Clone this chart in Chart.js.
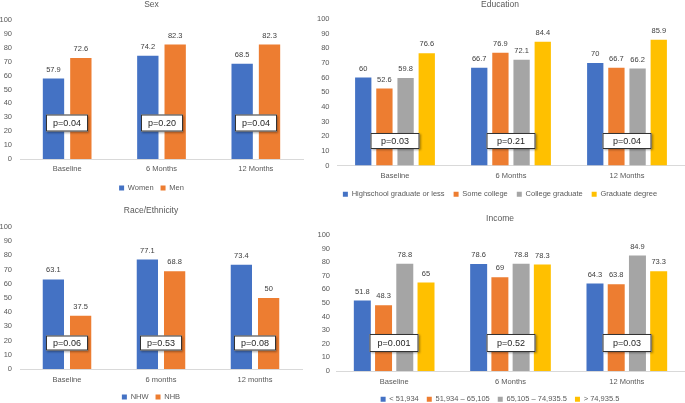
<!DOCTYPE html>
<html>
<head>
<meta charset="utf-8">
<script src="https://cdn.jsdelivr.net/npm/chart.js@4.4.1/dist/chart.umd.min.js"></script>
<style>
    html, body { margin: 0; padding: 0; background: #fff; }
    #wrap { position: relative; width: 685px; height: 403px; overflow: hidden; }
    .panel { position: absolute; }
</style>
</head>
<body>
<div id="wrap">
    <div class="panel" style="left:0;top:0;width:310px;height:200px"><canvas id="sexChart"></canvas></div>
    <div class="panel" style="left:315px;top:0;width:370px;height:200px"><canvas id="eduChart"></canvas></div>
    <div class="panel" style="left:0;top:200px;width:310px;height:203px"><canvas id="raceChart"></canvas></div>
    <div class="panel" style="left:315px;top:200px;width:370px;height:203px"><canvas id="incomeChart"></canvas></div>
</div>
<script>
// ===============================================
// Data
// ===============================================
const periods = ['Baseline', '6 Months', '12 Months'];
const periodsRace = ['Baseline', '6 months', '12 months'];
const yTicks = [0, 10, 20, 30, 40, 50, 60, 70, 80, 90, 100];

const sexWomen = [57.9, 74.2, 68.5];
const sexMen = [72.6, 82.3, 82.3];
const sexP = ['p=0.04', 'p=0.20', 'p=0.04'];

const eduHighschool = [60, 66.7, 70];
const eduSomeCollege = [52.6, 76.9, 66.7];
const eduCollegeGrad = [59.8, 72.1, 66.2];
const eduGradDegree = [76.6, 84.4, 85.9];
const eduP = ['p=0.03', 'p=0.21', 'p=0.04'];

const raceNHW = [63.1, 77.1, 73.4];
const raceNHB = [37.5, 68.8, 50];
const raceP = ['p=0.06', 'p=0.53', 'p=0.08'];

const incLow = [51.8, 78.6, 64.3];
const incMidLow = [48.3, 69, 63.8];
const incMidHigh = [78.8, 78.8, 84.9];
const incHigh = [65, 78.3, 73.3];
const incP = ['p=0.001', 'p=0.52', 'p=0.03'];

// ===============================================
// Style
// ===============================================
const FONT = '"Liberation Sans", Arial, sans-serif';
const BLUE = '#4472C4', ORANGE = '#ED7D31', GRAY = '#A5A5A5', GOLD = '#FFC000';
const TEXT = '#595959';

// value labels above bars + p-value boxes
const labelsAndBoxes = {
    id: 'labelsAndBoxes',
    afterDatasetsDraw(chart, args, opts) {
        const ctx = chart.ctx;
        ctx.save();
        ctx.font = '7.5px ' + FONT;
        ctx.fillStyle = '#404040';
        ctx.textAlign = 'center';
        ctx.textBaseline = 'middle';
        chart.data.datasets.forEach((ds, i) => {
            chart.getDatasetMeta(i).data.forEach((bar, j) => {
                ctx.fillText(String(ds.data[j]), bar.x, bar.y - 9);
            });
        });

        const xs = chart.scales.x, ys = chart.scales.y;
        ctx.font = '9px ' + FONT;
        opts.pValues.forEach((txt, j) => {
            const cx = Math.round(xs.getPixelForValue(j));
            const cy = Math.round(ys.getPixelForValue(opts.boxAt));
            const w = opts.boxW, h = opts.boxH;
            // box with a soft drop shadow
            ctx.save();
            ctx.shadowColor = 'rgba(0, 0, 0, 0.35)';
            ctx.shadowBlur = 2;
            ctx.shadowOffsetX = 1;
            ctx.shadowOffsetY = 1;
            ctx.fillStyle = '#fff';
            ctx.fillRect(cx - w / 2, cy - h / 2, w, h);
            ctx.restore();
            ctx.strokeStyle = '#333';
            ctx.lineWidth = 1;
            ctx.strokeRect(cx - w / 2 + 0.5, cy - h / 2 + 0.5, w - 1, h - 1);
            ctx.fillStyle = '#1e1e1e';
            ctx.fillText(txt, cx, cy + 0.5);
        });
        ctx.restore();
    }
};

function makeChart(id, title, labels, datasets, pCfg, lay) {
    return new Chart(document.getElementById(id), {
        type: 'bar',
        data: { labels: labels, datasets: datasets },
        options: {
            responsive: true,
            maintainAspectRatio: false,
            animation: false,
            categoryPercentage: lay.catPct,
            barPercentage: lay.barPct,
            layout: { padding: { top: 0, right: lay.padRight, bottom: lay.padBottom, left: 0 } },
            plugins: {
                title: {
                    display: true,
                    text: title,
                    color: TEXT,
                    font: { family: FONT, size: 8.5, weight: 'normal' },
                    padding: { top: lay.titleTop, bottom: lay.titleBottom }
                },
                legend: {
                    position: 'bottom',
                    labels: {
                        color: TEXT,
                        boxWidth: 5,
                        boxHeight: 5,
                        padding: lay.legendPad,
                        font: { family: FONT, size: 7.5 }
                    }
                },
                tooltip: { enabled: false },
                labelsAndBoxes: pCfg
            },
            scales: {
                x: {
                    grid: { display: false, drawTicks: false },
                    border: { display: true, color: '#d9d9d9' },
                    ticks: { color: TEXT, padding: lay.xPad, font: { family: FONT, size: 7.5 } },
                    afterFit: (s) => { s.height = lay.xHeight; }
                },
                y: {
                    min: 0,
                    max: 100,
                    grid: { display: false, drawTicks: false },
                    border: { display: false },
                    afterBuildTicks: (s) => { s.ticks = yTicks.map(v => ({ value: v })); },
                    ticks: { color: TEXT, padding: lay.yPad, autoSkip: false, font: { family: FONT, size: 7.5 } },
                    afterFit: (s) => { s.width = lay.yWidth; }
                }
            }
        },
        plugins: [labelsAndBoxes]
    });
}

// ===============================================
// Charts
// ===============================================
makeChart('sexChart', 'Sex', periods, [
    { label: 'Women', data: sexWomen, backgroundColor: BLUE },
    { label: 'Men', data: sexMen, backgroundColor: ORANGE }
], { pValues: sexP, boxAt: 26, boxW: 42, boxH: 17 },
   { catPct: 0.58, barPct: 0.78, padRight: 7, padBottom: -1.75, titleTop: 0, titleBottom: 9.8,
     legendPad: 7, xPad: 5.5, xHeight: 18.25, yPad: 8, yWidth: 20 });

makeChart('eduChart', 'Education', periods, [
    { label: 'Highschool graduate or less', data: eduHighschool, backgroundColor: BLUE },
    { label: 'Some college', data: eduSomeCollege, backgroundColor: ORANGE },
    { label: 'College graduate', data: eduCollegeGrad, backgroundColor: GRAY },
    { label: 'Graduate degree', data: eduGradDegree, backgroundColor: GOLD }
], { pValues: eduP, boxAt: 17, boxW: 49, boxH: 16 },
   { catPct: 0.73, barPct: 0.77, padRight: 0, padBottom: -8, titleTop: 0, titleBottom: 8.8,
     legendPad: 9, xPad: 6, xHeight: 16, yPad: 7.5, yWidth: 22 });

makeChart('raceChart', 'Race/Ethnicity', periodsRace, [
    { label: 'NHW', data: raceNHW, backgroundColor: BLUE },
    { label: 'NHB', data: raceNHB, backgroundColor: ORANGE }
], { pValues: raceP, boxAt: 18, boxW: 42, boxH: 15 },
   { catPct: 0.58, barPct: 0.78, padRight: 8, padBottom: -7.75, titleTop: 5.5, titleBottom: 11.3,
     legendPad: 7, xPad: 6.5, xHeight: 17.25, yPad: 8, yWidth: 20 });

makeChart('incomeChart', 'Income', periods, [
    { label: '< 51,934', data: incLow, backgroundColor: BLUE },
    { label: '51,934 \u2013 65,105', data: incMidLow, backgroundColor: ORANGE },
    { label: '65,105 \u2013 74,935.5', data: incMidHigh, backgroundColor: GRAY },
    { label: '> 74,935.5', data: incHigh, backgroundColor: GOLD }
], { pValues: incP, boxAt: 20.5, boxW: 49, boxH: 18 },
   { catPct: 0.73, barPct: 0.8, padRight: 0, padBottom: -10, titleTop: 13.5, titleBottom: 11.3,
     legendPad: 8, xPad: 6.5, xHeight: 16.5, yPad: 6, yWidth: 21 });
</script>
</body>
</html>
